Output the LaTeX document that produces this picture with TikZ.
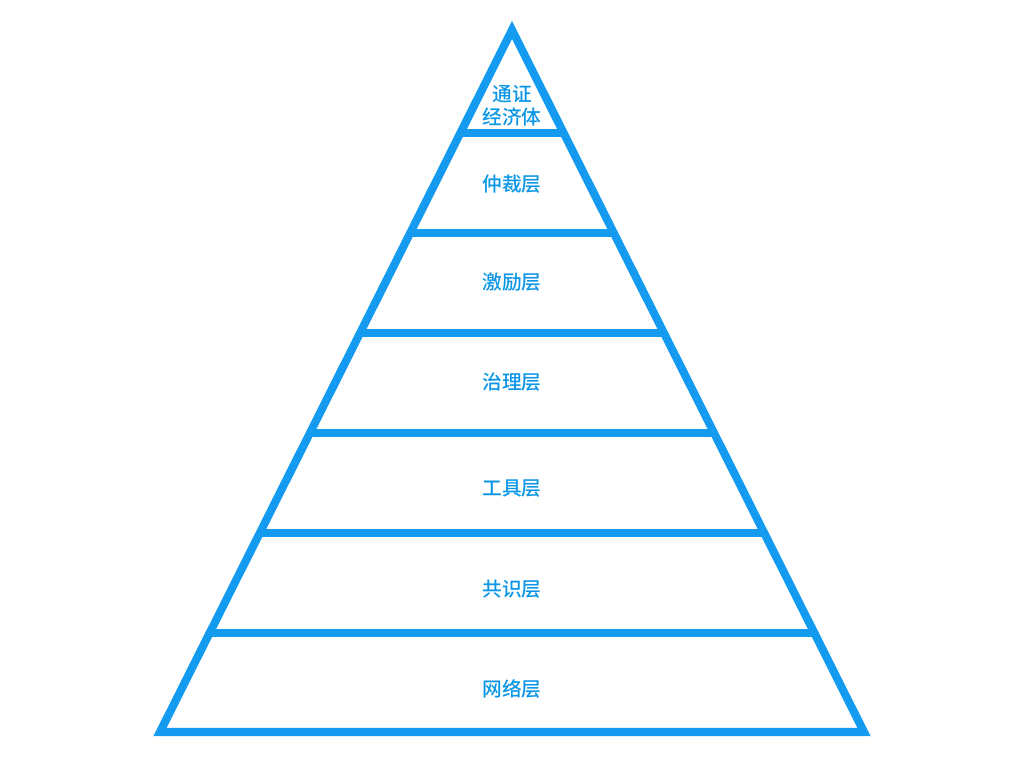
\documentclass[tikz,border=0pt]{standalone}
\usepackage{fontspec}
\usepackage{xcolor}
\setmainfont{Noto Sans CJK SC Medium}
\usetikzlibrary{calc}
\definecolor{pyrblue}{RGB}{20,155,240}
\definecolor{txtblue}{RGB}{10,150,230}

\begin{document}
\begin{tikzpicture}[x=0.01cm, y=-0.01cm,
    layer/.style={pyrblue, line width=2.3pt},
    lbl/.style={text=txtblue, font=\fontsize{5.6pt}{6.6pt}\selectfont, align=center, inner sep=0pt}]
        \useasboundingbox (0,0) rectangle (1024,768);
        \coordinate (apex) at (512,30);
        \coordinate (baseL) at (160,732);
        \coordinate (baseR) at (864,732);
        % outline
        \draw[layer] (apex) -- (baseR) -- (baseL) -- cycle;
        % layer boundaries
        \draw[layer] ($(apex)!0.1467!(baseL)$) -- ($(apex)!0.1467!(baseR)$);
        \draw[layer] ($(apex)!0.2892!(baseL)$) -- ($(apex)!0.2892!(baseR)$);
        \draw[layer] ($(apex)!0.4316!(baseL)$) -- ($(apex)!0.4316!(baseR)$);
        \draw[layer] ($(apex)!0.5741!(baseL)$) -- ($(apex)!0.5741!(baseR)$);
        \draw[layer] ($(apex)!0.7165!(baseL)$) -- ($(apex)!0.7165!(baseR)$);
        \draw[layer] ($(apex)!0.8590!(baseL)$) -- ($(apex)!0.8590!(baseR)$);
        % labels
        \node[lbl] (token) at (512,106) {通证\\经济体};
        \node[lbl] (arbit) at (512,184) {仲裁层};
        \node[lbl] (incent) at (512,282) {激励层};
        \node[lbl] (govern) at (512,382) {治理层};
        \node[lbl] (tool) at (512,489) {工具层};
        \node[lbl] (consen) at (512,589) {共识层};
        \node[lbl] (network) at (512,689) {网络层};
    \end{tikzpicture}
\end{document}
